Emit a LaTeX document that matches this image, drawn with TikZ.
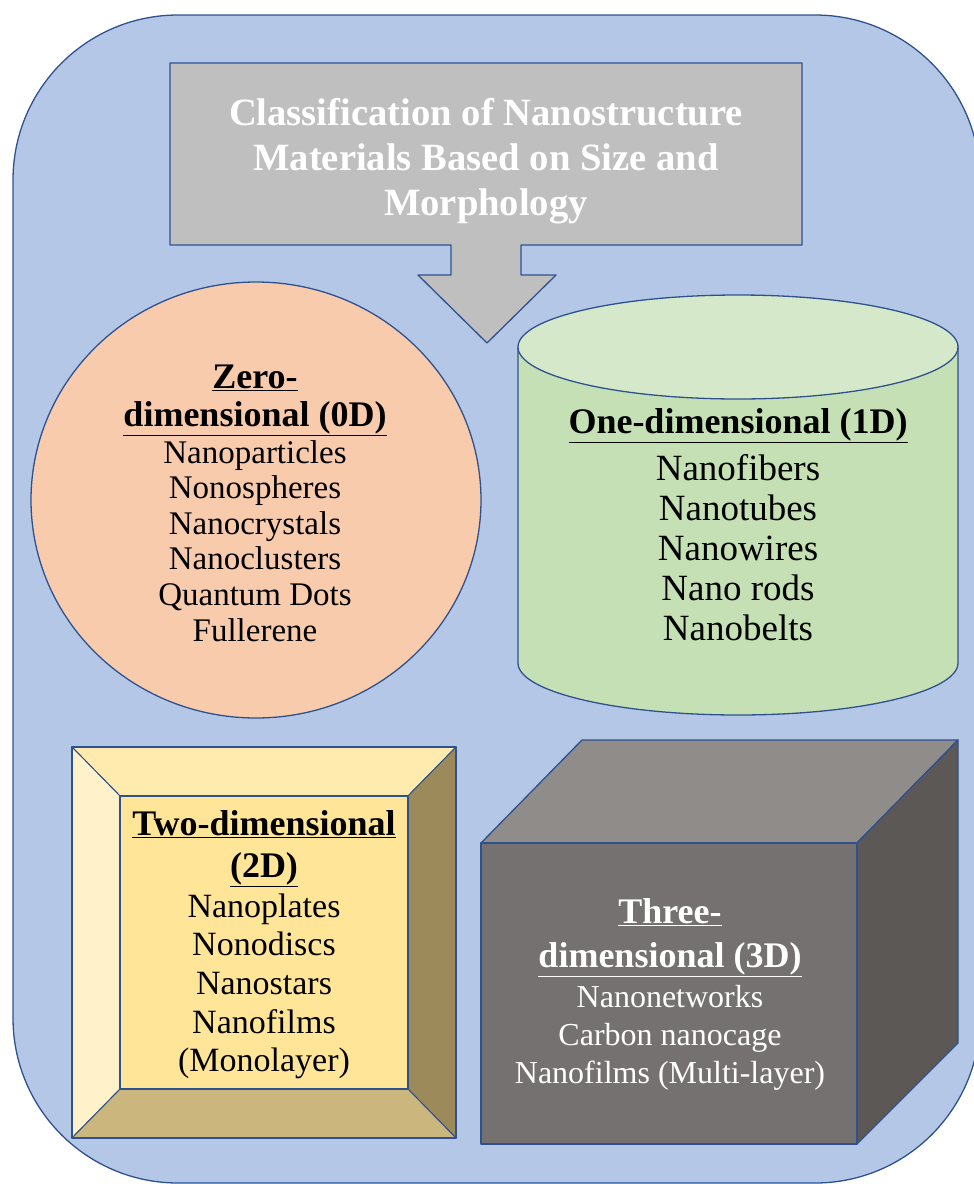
\documentclass[tikz,border=0pt]{standalone}
\usepackage{fontspec}
\setmainfont{Liberation Serif}
\usepackage{tikz}
\definecolor{bgblue}{HTML}{B4C7E7}
\definecolor{edgeblue}{HTML}{2F528F}
\definecolor{titlegray}{HTML}{BFBFBF}
\definecolor{zeropeach}{HTML}{F8CBAD}
\definecolor{oneside}{HTML}{C5E0B4}
\definecolor{onetop}{HTML}{D5E8CA}
\definecolor{twoface}{HTML}{FFE598}
\definecolor{twotop}{HTML}{FFEBAE}
\definecolor{twoleft}{HTML}{FFF1CA}
\definecolor{tworight}{HTML}{9C8A5B}
\definecolor{twobottom}{HTML}{CBB77E}
\definecolor{threefront}{HTML}{767171}
\definecolor{threetop}{HTML}{8F8C89}
\definecolor{threeright}{HTML}{5B5856}

\begin{document}
\begin{tikzpicture}[x=1pt,y=-1pt,line width=1.3pt,line join=round,
  outline/.style={draw=edgeblue},
  txt/.style={inner sep=0pt,anchor=base},
  titletxt/.style={txt,white,font=\fontsize{38.6}{45}\selectfont\bfseries},
  head/.style={txt,font=\fontsize{36}{40}\selectfont\bfseries},
  item/.style={txt,font=\fontsize{33}{36}\selectfont}]
\useasboundingbox (0,0) rectangle (974,1184);
%background panel
\draw[outline,fill=bgblue,rounded corners=165pt] (13,15) rectangle (980,1183);
%title with arrow
\draw[outline,fill=titlegray] (170,63)--(802,63)--(802,245)--(521,245)--(521,275)--(556,275)
  --(487,343)--(418,275)--(451,275)--(451,245)--(170,245)--cycle;
\foreach \t [count=\i] in {Classification of Nanostructure,Materials Based on Size and,Morphology}{
\node[titletxt] (title-\i) at (486,{80+45*\i}) {\t};
}
%zero-dimensional
\draw[outline,fill=zeropeach] (256,500) ellipse [x radius=225, y radius=218];
\node[head] (zero-h1) at (255,388) {\underline{Zero-}};
\node[head] (zero-h2) at (255,426) {\underline{dimensional (0D)}};
\foreach \t [count=\i] in {Nanoparticles,Nonospheres,Nanocrystals,Nanoclusters,Quantum Dots,Fullerene}{
\node[item] (zero-\i) at (255,{427.4+35.6*\i}) {\t};
}
%one-dimensional
\draw[outline,fill=oneside] (518,347)--(518,663) arc[start angle=180,end angle=0,x radius=220,y radius=52]--(958,347)--cycle;
\draw[outline,fill=onetop] (738,347) ellipse [x radius=220, y radius=52];
\node[head] (one-h1) at (738,433) {\underline{One-dimensional (1D)}};
\foreach \t [count=\i] in {Nanofibers,Nanotubes,Nanowires,Nano rods,Nanobelts}{
\node[item,font=\fontsize{37}{40}\selectfont] (one-\i) at (738,{440+40*\i}) {\t};
}
%two-dimensional
\draw[outline,line width=1pt,fill=twotop] (72,747)--(456,747)--(408,796)--(120,796)--cycle;
\draw[outline,line width=1pt,fill=twoleft] (72,747)--(120,796)--(120,1089)--(72,1138)--cycle;
\draw[outline,line width=1pt,fill=tworight] (456,747)--(456,1138)--(408,1089)--(408,796)--cycle;
\draw[outline,line width=1pt,fill=twobottom] (72,1138)--(120,1089)--(408,1089)--(456,1138)--cycle;
\draw[outline,fill=twoface] (120,796) rectangle (408,1089);
\draw[outline] (72,747) rectangle (456,1138);
\node[head] (two-h1) at (264,835) {\underline{Two-dimensional}};
\node[head] (two-h2) at (264,877) {\underline{(2D)}};
\foreach \t [count=\i] in {Nanoplates,Nonodiscs,Nanostars,Nanofilms,(Monolayer)}{
\node[item,font=\fontsize{34}{38}\selectfont] (two-\i) at (264,{878.3+38.7*\i}) {\t};
}
%three-dimensional
\draw[outline,fill=threetop] (481,843)--(582,740)--(958,740)--(857,843)--cycle;
\draw[outline,fill=threeright] (857,843)--(958,740)--(958,1043)--(857,1144)--cycle;
\draw[outline,fill=threefront] (481,843) rectangle (857,1144);
\node[head,white] (three-h1) at (670,923) {\underline{Three-}};
\node[head,white] (three-h2) at (670,967) {\underline{dimensional (3D)}};
\foreach \t [count=\i] in {Nanonetworks,Carbon nanocage,Nanofilms (Multi-layer)}{
\node[item,white,font=\fontsize{32}{36}\selectfont] (three-\i) at (670,{969+38*\i}) {\t};
}
\end{tikzpicture}
\end{document}
